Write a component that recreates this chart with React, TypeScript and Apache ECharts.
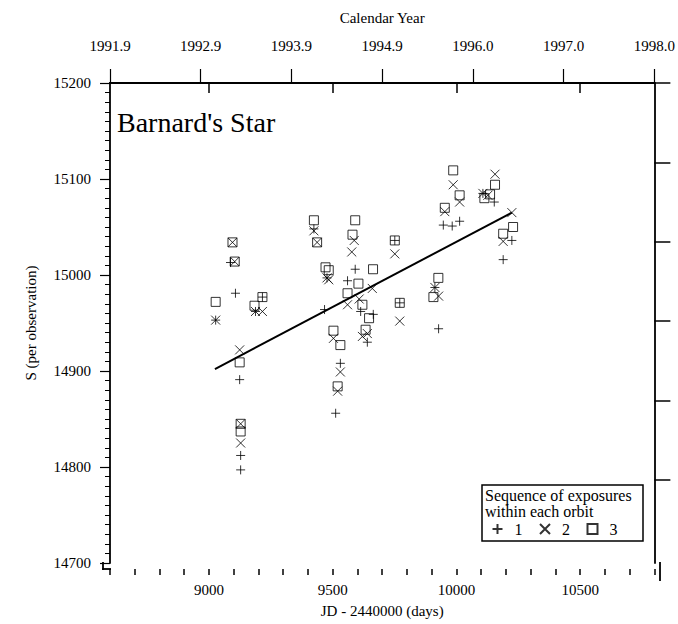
import React, { useEffect, useRef } from "react";
import * as echarts from "echarts";

const FONT = "Liberation Serif";

// Sequence 1 (+), 2 (×), 3 (□): [JD - 2440000, S]
const seq1: number[][] = [
  [9027, 14953], [9087, 15013], [9107, 14981], [9124, 14891], [9128, 14812], [9128, 14797],
  [9188, 14962], [9216, 14977], [9424, 15048], [9467, 14964], [9477, 14997], [9531, 14908],
  [9512, 14856], [9591, 15006], [9560, 14994], [9613, 14962], [9664, 14959], [9640, 14930],
  [9751, 15036], [9771, 14971], [9913, 14987], [9928, 14944], [9947, 15052], [9983, 15051],
  [10013, 15056], [10107, 15085], [10153, 15076], [10224, 15036], [10189, 15016],
];
const seq2: number[][] = [
  [9027, 14953], [9095, 15034], [9104, 15014], [9124, 14922], [9128, 14845], [9128, 14825],
  [9188, 14962], [9216, 14962], [9424, 15046], [9437, 15034], [9477, 14997], [9484, 14995],
  [9503, 14934], [9531, 14899], [9520, 14879], [9587, 15036], [9577, 15024], [9560, 14969],
  [9607, 14975], [9660, 14986], [9620, 14936], [9640, 14939], [9751, 15022], [9771, 14952],
  [9913, 14987], [9928, 14978], [9987, 15094], [10013, 15076], [9953, 15066], [10156, 15105],
  [10107, 15085], [10127, 15083], [10224, 15065], [10189, 15035],
];
const seq3: number[][] = [
  [9027, 14972], [9095, 15034], [9104, 15014], [9124, 14909], [9128, 14845], [9128, 14837],
  [9184, 14968], [9216, 14977], [9424, 15057], [9437, 15034], [9471, 15008], [9484, 15005],
  [9503, 14942], [9531, 14927], [9520, 14884], [9591, 15057], [9580, 15042], [9663, 15006],
  [9604, 14991], [9560, 14981], [9620, 14969], [9647, 14955], [9633, 14943], [9751, 15036],
  [9771, 14971], [9927, 14997], [9907, 14977], [9987, 15109], [10013, 15083], [9953, 15070],
  [10156, 15094], [10113, 15080], [10136, 15084], [10229, 15050], [10189, 15043],
];
const fitLine: number[][] = [[9024, 14902], [10224, 15065]];

const xMajorTicks = [9000, 9500, 10000, 10500];
const topYears = ["1991.9", "1992.9", "1993.9", "1994.9", "1996.0", "1997.0", "1998.0"];
const rightTicks = [0, 1, 2, 3, 4, 5];
const seqNames = ["1", "2", "3"];

const PLUS = "path://M0,5L10,5M5,0L5,10";
const CROSS = "path://M0,0L10,10M10,0L0,10";

export default function App() {
  const ref = useRef<HTMLDivElement>(null);
  useEffect(() => {
    if (!ref.current) return;
    const chart = echarts.init(ref.current, undefined, { renderer: "svg" });
    const txt = { fontFamily: FONT, fontSize: 15, color: "#000", fontWeight: "normal" as const };
    const rich = { s: { fontFamily: FONT, fontSize: 15, color: "#000" } };
    const line = { show: true, lineStyle: { color: "#000", width: 1.8 } };
    const symStyle = { color: "none", borderColor: "#000", borderWidth: 1 };
    const plain = (v: number) => `{s|${v}}`;
    chart.setOption({
      animation: false,
      backgroundColor: "#fff",
      textStyle: { fontFamily: FONT, color: "#000" },
      grid: { left: 110, right: 18, top: 83, bottom: 61 },
      legend: {
        data: seqNames,
        left: 490,
        top: 521,
        padding: 0,
        itemWidth: 10,
        itemHeight: 10,
        itemGap: 15,
        selectedMode: false,
        formatter: (n: string) => `{s|${n}}`,
        textStyle: {
          fontFamily: FONT, fontSize: 16, color: "#000", padding: [0, 0, 0, 7],
          rich: { s: { fontFamily: FONT, fontSize: 16, color: "#000" } },
        },
      },
      xAxis: [
        {
          type: "value", position: "bottom", min: 8600, max: 10800, offset: 6,
          axisLine: line,
          axisTick: { show: true, customValues: xMajorTicks, length: 10, lineStyle: { color: "#000", width: 1.5 } },
          axisLabel: { ...txt, rich, customValues: xMajorTicks, margin: 13, formatter: plain },
          splitLine: { show: false },
          name: "JD - 2440000 (days)", nameLocation: "middle", nameGap: 34,
          nameTextStyle: txt,
        },
        {
          type: "value", position: "bottom", min: 8600, max: 10800, interval: 100, offset: 6,
          axisLine: { show: false },
          axisTick: { show: true, length: 6, lineStyle: { color: "#000", width: 1.5 } },
          axisLabel: { show: false },
          splitLine: { show: false },
        },
        {
          type: "value", position: "top", min: 0, max: 6, interval: 1,
          axisLine: line,
          axisTick: { show: true, length: 14, lineStyle: { color: "#000", width: 1.2 } },
          axisLabel: {
            ...txt, rich, margin: 30, showMinLabel: true, showMaxLabel: true,
            formatter: (v: number) => `{s|${topYears[Math.round(v)] ?? ""}}`,
          },
          splitLine: { show: false },
          name: "Calendar Year", nameLocation: "middle", nameGap: 58,
          nameTextStyle: txt,
        },
      ],
      yAxis: [
        {
          type: "value", position: "left", min: 14700, max: 15200, interval: 100, offset: 7,
          axisLine: line,
          axisTick: { show: true, length: 10, lineStyle: { color: "#000", width: 1.2 } },
          minorTick: { show: true, splitNumber: 10, length: 5, lineStyle: { color: "#000", width: 1 } },
          axisLabel: { ...txt, rich, margin: 12, formatter: plain },
          splitLine: { show: false },
          minorSplitLine: { show: false },
          name: "S (per observation)", nameLocation: "middle", nameGap: 65, nameRotate: 90,
          nameTextStyle: txt,
        },
        {
          type: "value", position: "right", min: 0, max: 6.045, inverse: true,
          axisLine: line,
          axisTick: { show: true, customValues: rightTicks, length: 16, lineStyle: { color: "#000", width: 1.5 } },
          axisLabel: { show: false },
          splitLine: { show: false },
        },
      ],
      series: [
        {
          type: "line", data: fitLine, xAxisIndex: 0, yAxisIndex: 0, symbol: "none",
          lineStyle: { color: "#000", width: 2 }, silent: true, z: 1,
        },
        {
          name: "1", type: "scatter", data: seq1, xAxisIndex: 0, yAxisIndex: 0,
          symbol: PLUS, symbolSize: 9, itemStyle: symStyle, z: 3,
        },
        {
          name: "2", type: "scatter", data: seq2, xAxisIndex: 0, yAxisIndex: 0,
          symbol: CROSS, symbolSize: 9, itemStyle: symStyle, z: 3,
        },
        {
          name: "3", type: "scatter", data: seq3, xAxisIndex: 0, yAxisIndex: 0,
          symbol: "rect", symbolSize: 9, itemStyle: symStyle, z: 3,
        },
      ],
      graphic: [
        { type: "line", shape: { x1: 103, y1: 562, x2: 103, y2: 570 }, style: { stroke: "#000", lineWidth: 1.8 } },
        { type: "line", shape: { x1: 102, y1: 569, x2: 111, y2: 569 }, style: { stroke: "#000", lineWidth: 1.8 } },
        { type: "line", shape: { x1: 660, y1: 562, x2: 660, y2: 581 }, style: { stroke: "#000", lineWidth: 1.8 } },
        {
          type: "text", left: 117, top: 108,
          style: { text: "Barnard's Star", font: `28px '${FONT}'`, fill: "#000" },
        },
        {
          type: "rect", shape: { x: 482, y: 485, width: 161, height: 56 },
          style: { fill: "none", stroke: "#000", lineWidth: 1.5 }, z: 10,
        },
        {
          type: "text", x: 485, y: 487,
          style: { text: "Sequence of exposures", font: `16px '${FONT}'`, fill: "#000" }, z: 10,
        },
        {
          type: "text", x: 485, y: 503,
          style: { text: "within each orbit", font: `16px '${FONT}'`, fill: "#000" }, z: 10,
        },
      ],
    });
    return () => chart.dispose();
  }, []);
  return (
    <div
      ref={ref}
      style={{ position: "absolute", left: 0, top: 0, width: 678, height: 624, background: "#fff" }}
    />
  );
}
